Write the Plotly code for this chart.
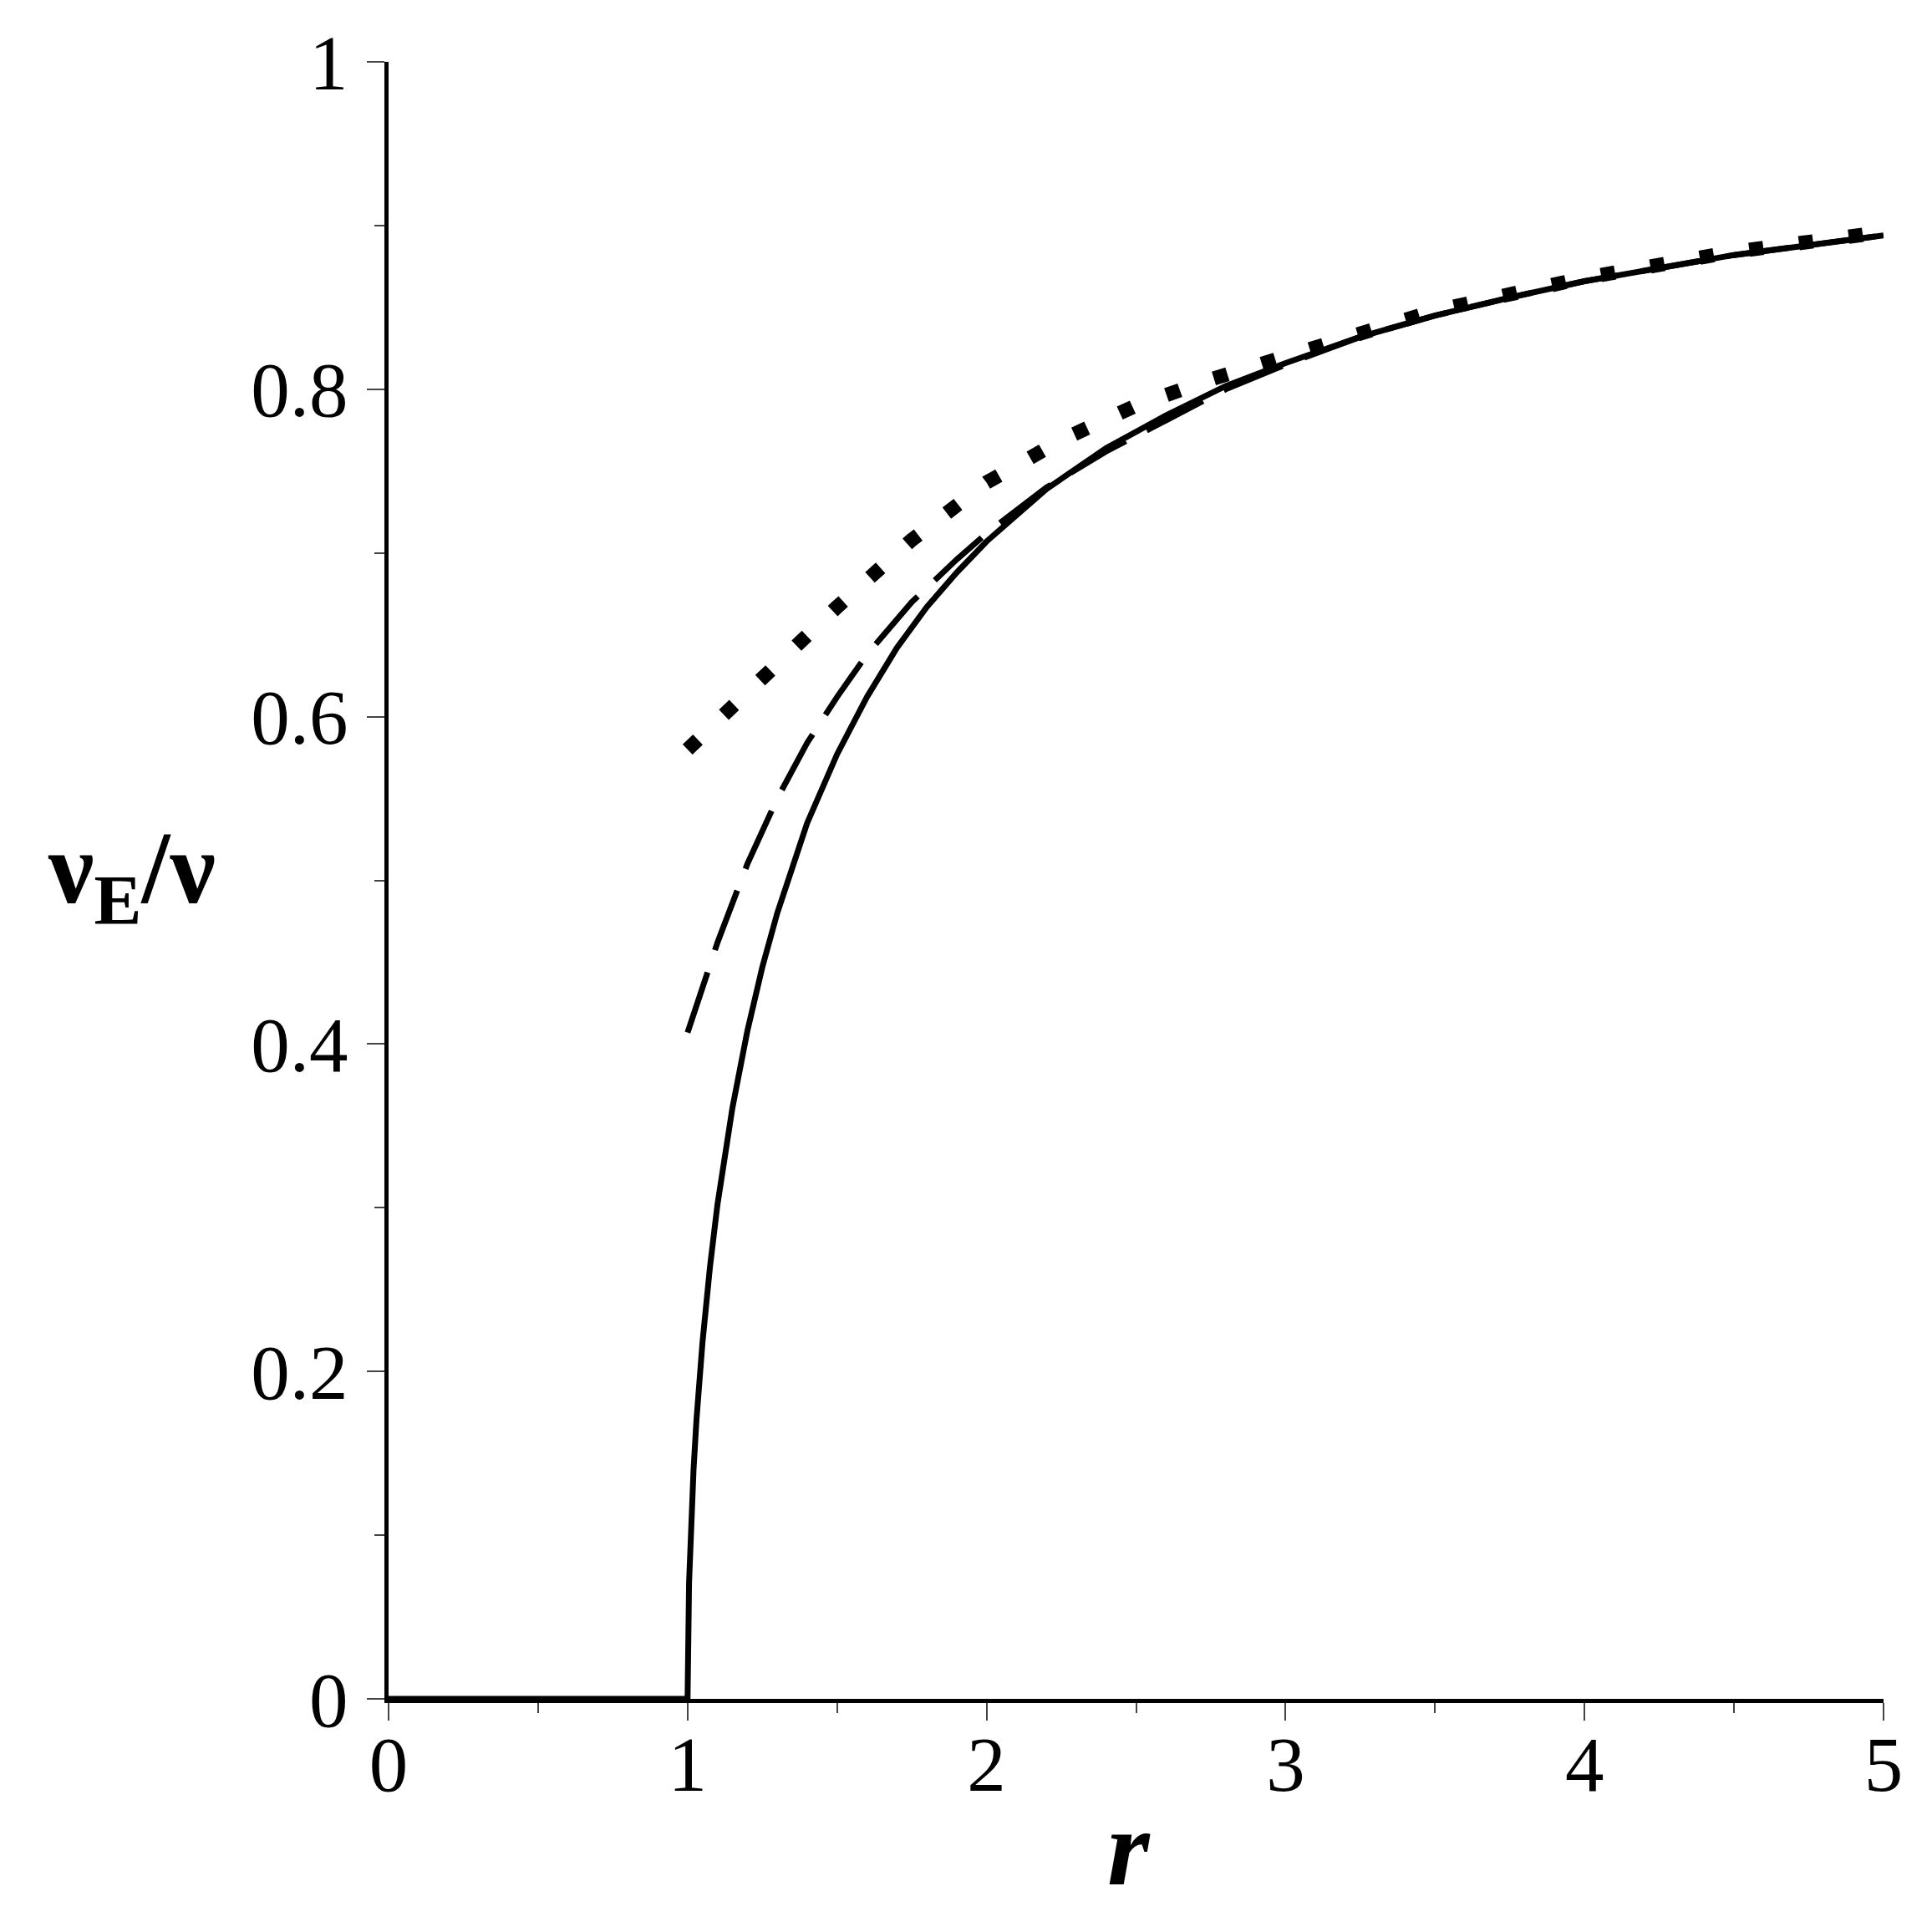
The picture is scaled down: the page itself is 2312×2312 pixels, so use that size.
import plotly.graph_objects as go

# ---- data ----
r_solid = [0.0, 1.0, 1.005, 1.01, 1.02, 1.03, 1.05, 1.075, 1.1, 1.15, 1.2, 1.25, 1.3, 1.4, 1.5,
           1.6, 1.7, 1.8, 1.9, 2.0, 2.2, 2.4, 2.6, 2.8, 3.0, 3.25, 3.5, 3.75, 4.0, 4.25,
           4.5, 4.75, 5.0]
v_solid = [0.0, 0.0, 0.071, 0.100, 0.140, 0.171, 0.218, 0.264, 0.302, 0.361, 0.408, 0.447,
           0.480, 0.535, 0.577, 0.612, 0.642, 0.667, 0.688, 0.707, 0.739, 0.764, 0.784,
           0.802, 0.816, 0.832, 0.845, 0.856, 0.866, 0.874, 0.882, 0.888, 0.894]

r_dash = [1.0, 1.1, 1.2, 1.3, 1.4, 1.5, 1.6, 1.75, 1.9, 2.0, 2.2, 2.4, 2.6, 2.8, 3.0,
          3.25, 3.5, 3.75, 4.0, 4.5, 5.0]
v_dash = [0.407, 0.462, 0.510, 0.550, 0.584, 0.612, 0.638, 0.670, 0.696, 0.712, 0.740,
          0.762, 0.781, 0.800, 0.815, 0.832, 0.845, 0.856, 0.866, 0.882, 0.894]

r_dot = [1.0, 1.25, 1.5, 1.75, 2.0, 2.25, 2.5, 2.75, 3.0, 3.5, 4.0, 4.5, 5.0]
v_dot = [0.580, 0.624, 0.667, 0.708, 0.743, 0.769, 0.790, 0.806, 0.820, 0.848, 0.868,
         0.884, 0.896]

x_ticks = [0, 1, 2, 3, 4, 5]
x_ticklabels = ["0", "1", "2", "3", "4", "5"]
y_ticks = [0, 0.2, 0.4, 0.6, 0.8, 1.0]
y_ticklabels = ["0", "0.2", "0.4", "0.6", "0.8", "1"]

FONT = "Liberation Serif, Times New Roman, serif"

fig = go.Figure()
fig.add_trace(go.Scatter(x=r_dot, y=v_dot, mode="lines",
                         line=dict(color="black", width=17, dash="17px,43px"),
                         showlegend=False, hoverinfo="skip"))
fig.add_trace(go.Scatter(x=r_dash, y=v_dash, mode="lines",
                         line=dict(color="black", width=7, dash="76px,28px"),
                         showlegend=False, hoverinfo="skip"))
fig.add_trace(go.Scatter(x=r_solid, y=v_solid, mode="lines",
                         line=dict(color="black", width=7),
                         showlegend=False, hoverinfo="skip"))

fig.update_xaxes(range=[0, 5], showline=True, linecolor="black", linewidth=5,
                 showgrid=False, zeroline=False,
                 tickvals=x_ticks, ticktext=x_ticklabels,
                 ticks="outside", ticklen=21, tickwidth=1.5, tickcolor="#444",
                 ticklabelstandoff=-28,
                 minor=dict(ticks="outside", ticklen=12, tickwidth=1.5, tickcolor="#444",
                            dtick=0.5, showgrid=False),
                 tickfont=dict(family=FONT, size=93, color="black"))
fig.update_yaxes(range=[0, 1], showline=True, linecolor="black", linewidth=5,
                 showgrid=False, zeroline=False,
                 tickvals=y_ticks, ticktext=y_ticklabels,
                 ticks="outside", ticklen=21, tickwidth=1.5, tickcolor="#444",
                 ticklabelstandoff=4,
                 minor=dict(ticks="outside", ticklen=12, tickwidth=1.5, tickcolor="#444",
                            dtick=0.1, showgrid=False),
                 tickfont=dict(family=FONT, size=93, color="black"))

fig.add_annotation(text="<b><i>r</i></b>", xref="paper", yref="paper",
                   x=0.495, y=-0.091, showarrow=False,
                   font=dict(family=FONT, size=130, color="black"),
                   xanchor="center", yanchor="middle")
fig.add_annotation(text="<b>ν<sub>E</sub>/ν</b>", xref="paper", yref="paper",
                   x=-0.172, y=0.503, showarrow=False,
                   font=dict(family=FONT, size=122, color="black"),
                   xanchor="center", yanchor="middle")

fig.update_layout(width=2312, height=2312,
                  margin=dict(l=457, r=66, t=66, b=287),
                  paper_bgcolor="white", plot_bgcolor="white")

fig.write_html("out.html")
